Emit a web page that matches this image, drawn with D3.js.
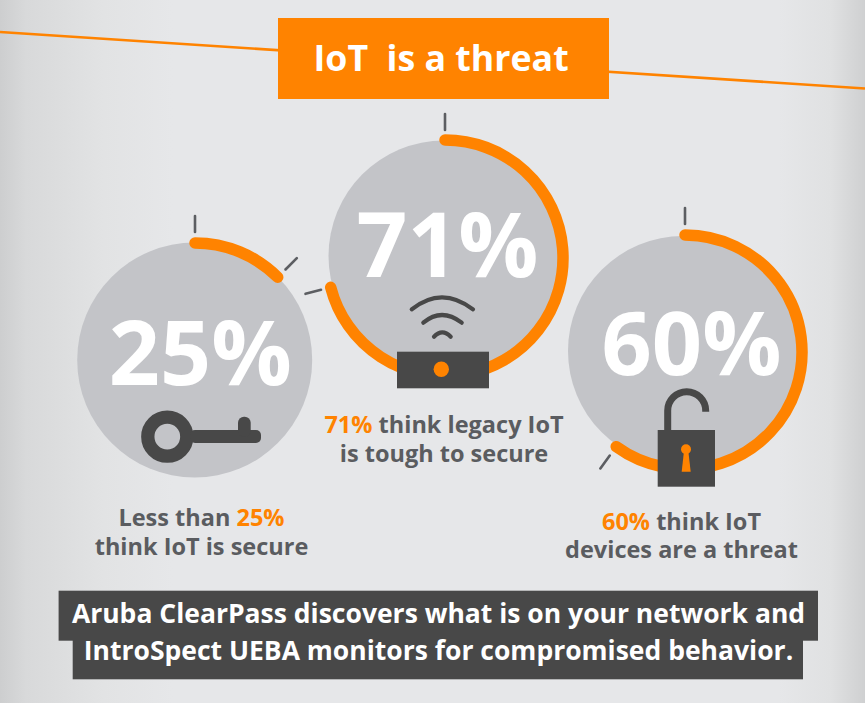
<!DOCTYPE html>
<html>
<head>
<meta charset="utf-8">
<script src="https://cdn.jsdelivr.net/npm/d3@7"></script>
<style>
  html, body { margin: 0; padding: 0; background: #e6e7e9; }
  svg { display: block; }
  text { font-family: "Open Sans", sans-serif; white-space: pre; }
</style>
</head>
<body>
<div id="chart"></div>
<script>
// values
const labels = ["25%", "71%", "60%"];
const arcShares = [12.5, 71, 60]; // the 25% ring is really drawn to about 1/8 of the circle

const captionLines = [
  [[["Less than ", false], ["25%", true]], [["think IoT is secure", false]]],
  [[["71%", true], [" think legacy IoT", false]], [["is tough to secure", false]]],
  [[["60%", true], [" think IoT", false]], [["devices are a threat", false]]]
];
const titleText = "IoT  is a threat";
const footerLines = [
  "Aruba ClearPass discovers what is on your network and",
  "IntroSpect UEBA monitors for compromised behavior."
];

const width = 865, height = 703;
const orange = "#ff8300", dark = "#484848", grey = "#c3c4c8", textGrey = "#5a5c60";

// layout of the three dials
const discs = [
  { x: 194.7, y: 360, r: 117.5 },
  { x: 444, y: 256, r: 115.5 },
  { x: 683, y: 351, r: 115 }
];
const rings = [
  { x: 195, y: 360, r: 117 },
  { x: 445, y: 258, r: 118 },
  { x: 685, y: 352, r: 117 }
];
const bigLabelPos = [
  { x: 200.3, y: 385, size: 89.5 },
  { x: 447.5, y: 277, size: 89 },
  { x: 691.5, y: 375, size: 88 }
];
const captionPos = [
  { x: 201.5, y: 526.3 },
  { x: 444, y: 433 },
  { x: 681.5, y: 529.7 }
];

const svg = d3.select("#chart").append("svg")
  .attr("width", width)
  .attr("height", height)
  .attr("viewBox", [0, 0, width, height]);

// background, darker towards the side edges
const grad = svg.append("defs").append("linearGradient").attr("id", "bg");
[[0, "#cdcecf"], [0.03, "#d8d9da"], [0.12, "#e2e3e4"], [0.2, "#e6e7e9"], [0.9, "#e6e7e9"], [0.96, "#e0e1e2"], [1, "#cfd0d1"]]
  .forEach(s => grad.append("stop").attr("offset", s[0]).attr("stop-color", s[1]));
svg.append("rect").attr("width", width).attr("height", height).attr("fill", "url(#bg)");

// slanted line behind the title
const slant = d3.scaleLinear().domain([0, width]).range([32, 88.5]);
svg.append("line")
  .attr("x1", 0).attr("y1", slant(0))
  .attr("x2", width).attr("y2", slant(width))
  .attr("stroke", orange).attr("stroke-width", 2.6);

svg.append("rect")
  .attr("x", 278).attr("y", 18).attr("width", 331).attr("height", 81)
  .attr("fill", orange);
svg.append("text")
  .attr("x", 313.5).attr("y", 70.5)
  .attr("font-size", 35.7).attr("font-weight", 700).attr("fill", "#fff")
  .text(titleText);

const angle = d3.scaleLinear().domain([0, 100]).range([0, 2 * Math.PI]);

const dial = svg.selectAll("g.dial")
  .data(arcShares)
  .join("g")
  .attr("class", "dial");

dial.append("circle")
  .attr("cx", (d, i) => discs[i].x)
  .attr("cy", (d, i) => discs[i].y)
  .attr("r", (d, i) => discs[i].r)
  .attr("fill", grey);

dial.append("path")
  .attr("d", (d, i) => {
    const p = d3.path();
    p.arc(rings[i].x, rings[i].y, rings[i].r, -Math.PI / 2, -Math.PI / 2 + angle(d));
    return p.toString();
  })
  .attr("fill", "none")
  .attr("stroke", orange)
  .attr("stroke-width", 11.5)
  .attr("stroke-linecap", "round");

// tick at the start and at the end of each ring
dial.each(function (d, i) {
  [0, d].forEach(v => {
    const a = angle(v);
    d3.select(this).append("line")
      .attr("x1", rings[i].x + 128 * Math.sin(a))
      .attr("y1", rings[i].y - 128 * Math.cos(a))
      .attr("x2", rings[i].x + 144 * Math.sin(a))
      .attr("y2", rings[i].y - 144 * Math.cos(a))
      .attr("stroke", "#5c5e62")
      .attr("stroke-width", 2.6)
      .attr("stroke-linecap", "round");
  });
});

dial.append("text")
  .attr("x", (d, i) => bigLabelPos[i].x)
  .attr("y", (d, i) => bigLabelPos[i].y)
  .attr("text-anchor", "middle")
  .attr("font-size", (d, i) => bigLabelPos[i].size)
  .attr("font-weight", 700)
  .attr("fill", "#fff")
  .text((d, i) => labels[i]);

// key icon
const key = svg.append("g").attr("fill", dark);
key.append("circle")
  .attr("cx", 167.3).attr("cy", 436.7).attr("r", 19.5)
  .attr("fill", "none").attr("stroke", dark).attr("stroke-width", 13.3);
key.append("rect").attr("x", 190).attr("y", 430).attr("width", 71).attr("height", 13).attr("rx", 5);
key.append("rect").attr("x", 238).attr("y", 416.7).attr("width", 12.7).attr("height", 20).attr("rx", 6);

// router icon
[[411.7, 309.3, 441.7, 297.3, 473, 309.3], [423.3, 322.7, 441.7, 315, 461.7, 322.7], [434, 336.7, 442.3, 332.3, 450.7, 336.7]]
  .forEach(c => {
    const p = d3.path();
    p.moveTo(c[0], c[1]);
    p.quadraticCurveTo(c[2], 2 * c[3] - c[1], c[4], c[5]);
    svg.append("path").attr("d", p.toString())
      .attr("fill", "none").attr("stroke", dark)
      .attr("stroke-width", 4.2).attr("stroke-linecap", "round");
  });
svg.append("rect").attr("x", 397).attr("y", 351.7).attr("width", 92).attr("height", 36.6).attr("fill", dark);
svg.append("circle").attr("cx", 441.3).attr("cy", 369.3).attr("r", 7.7).attr("fill", orange);

// padlock icon
const shackle = d3.path();
shackle.moveTo(667.7, 432);
shackle.lineTo(667.7, 410.7);
shackle.arc(686.7, 410.7, 19, Math.PI, 0);
shackle.lineTo(705.7, 411.7);
svg.append("path").attr("d", shackle.toString())
  .attr("fill", "none").attr("stroke", dark).attr("stroke-width", 7);
svg.append("rect").attr("x", 657.7).attr("y", 430).attr("width", 57.3).attr("height", 56.7).attr("fill", dark);
svg.append("circle").attr("cx", 686).attr("cy", 449.3).attr("r", 5).attr("fill", orange);
svg.append("path")
  .attr("d", d3.line()([[684, 451], [688.3, 451], [690.7, 471.7], [681.7, 471.7]]) + "Z")
  .attr("fill", orange);

// captions
captionLines.forEach((lines, i) => {
  lines.forEach((parts, j) => {
    const t = svg.append("text")
      .attr("x", captionPos[i].x)
      .attr("y", captionPos[i].y + j * 28.5)
      .attr("text-anchor", "middle")
      .attr("font-size", 23.5)
      .attr("font-weight", 700);
    parts.forEach(p => {
      t.append("tspan").attr("fill", p[1] ? orange : textGrey).text(p[0]);
    });
  });
});

// footer band
svg.append("rect").attr("x", 58.6).attr("y", 590.7).attr("width", 759.4).attr("height", 50).attr("fill", dark);
svg.append("rect").attr("x", 72.7).attr("y", 640).attr("width", 730.3).attr("height", 39.3).attr("fill", dark);
footerLines.forEach((line, i) => {
  svg.append("text")
    .attr("x", 438.5)
    .attr("y", 623 + i * 37)
    .attr("text-anchor", "middle")
    .attr("font-size", 26.5)
    .attr("font-weight", 700)
    .attr("fill", "#fff")
    .text(line);
});
</script>
</body>
</html>
